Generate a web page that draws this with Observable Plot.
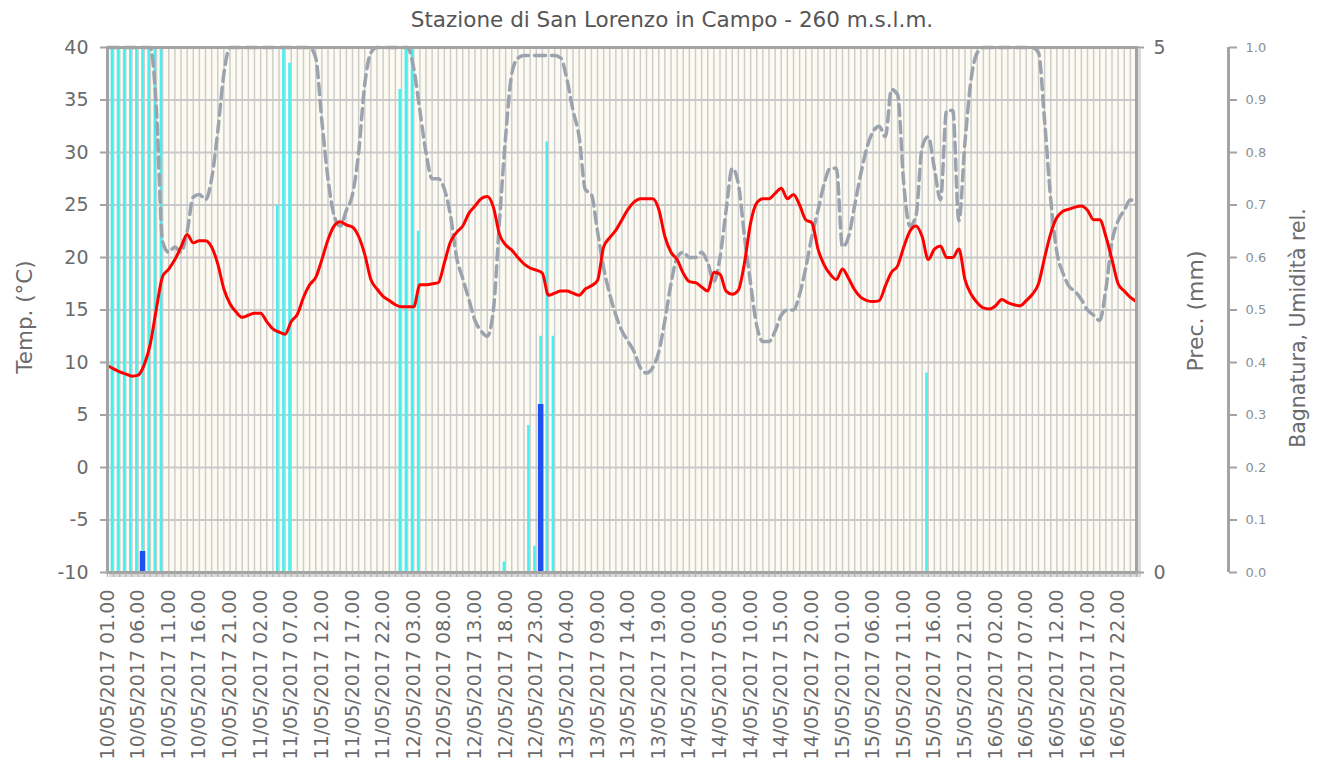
<!DOCTYPE html>
<html>
<head>
<meta charset="utf-8">
<script src="https://cdn.jsdelivr.net/npm/d3@7"></script>
<script src="https://cdn.jsdelivr.net/npm/@observablehq/plot@0.6"></script>
<style>
  html, body { margin: 0; padding: 0; background: #ffffff; }
  svg { display: block; }
</style>
</head>
<body>
<div id="chart"></div>
<script>
// hourly series, index 0 = 10/05/2017 01.00
const temperature = [
  9.7, 9.4, 9.1, 8.9, 8.7, 8.8, 9.8, 11.8, 15.2, 18.2,
  18.9, 19.8, 21.0, 22.2, 21.4, 21.6, 21.6, 21.0, 19.4, 17.0,
  15.6, 14.8, 14.3, 14.5, 14.7, 14.7, 13.9, 13.2, 12.9, 12.7,
  13.9, 14.6, 16.2, 17.4, 18.1, 19.8, 21.7, 23.0, 23.4, 23.1,
  22.9, 22.0, 20.3, 17.9, 17.0, 16.3, 15.9, 15.5, 15.3, 15.3,
  15.3, 17.4, 17.4, 17.5, 17.6, 19.5, 21.5, 22.4, 23.0, 24.2,
  24.9, 25.6, 25.8, 24.8, 22.2, 21.2, 20.7, 20.0, 19.4, 19.0,
  18.8, 18.5, 16.4, 16.6, 16.8, 16.8, 16.6, 16.4, 17.0, 17.3,
  17.8, 21.0, 21.9, 22.6, 23.6, 24.6, 25.3, 25.6, 25.6, 25.6,
  24.6, 22.0, 20.5, 19.8, 18.5, 17.7, 17.6, 17.2, 16.8, 18.6,
  18.4, 16.8, 16.5, 16.9, 19.5, 23.3, 25.2, 25.6, 25.6, 26.1,
  26.6, 25.6, 26.0, 25.0, 23.6, 23.3, 20.8, 19.3, 18.4, 17.9,
  18.9, 18.0, 16.9, 16.2, 15.9, 15.8, 15.9, 17.3, 18.6, 19.2,
  21.0, 22.5, 23.0, 22.0, 19.8, 20.8, 21.1, 20.0, 20.0, 20.8,
  17.9, 16.5, 15.7, 15.2, 15.1, 15.4, 16.0, 15.7, 15.5, 15.4,
  15.9, 16.5, 17.5, 20.0, 22.3, 23.8, 24.4, 24.6, 24.8, 24.9,
  24.5, 23.6, 23.6, 22.0, 19.8, 17.5, 16.8, 16.2, 15.8
];
const humidity = [
  1.0, 1.0, 1.0, 1.0, 1.0, 1.0, 1.0, 1.0, 0.88, 0.63,
  0.61, 0.62, 0.61, 0.65, 0.715, 0.72, 0.71, 0.75, 0.84, 0.95,
  1.0, 1.0, 1.0, 1.0, 1.0, 1.0, 1.0, 1.0, 1.0, 1.0,
  1.0, 1.0, 1.0, 1.0, 0.98, 0.86, 0.75, 0.68, 0.66, 0.69,
  0.72, 0.80, 0.93, 0.99, 1.0, 1.0, 1.0, 1.0, 1.0, 1.0,
  0.96, 0.88, 0.80, 0.75, 0.75, 0.73, 0.68, 0.60, 0.56, 0.52,
  0.48, 0.46, 0.45, 0.50, 0.67, 0.83, 0.95, 0.98, 0.985, 0.985,
  0.985, 0.985, 0.985, 0.985, 0.98, 0.94, 0.88, 0.83, 0.73, 0.72,
  0.65, 0.58, 0.53, 0.49, 0.46, 0.44, 0.42, 0.39, 0.38, 0.39,
  0.42, 0.48, 0.55, 0.60, 0.61, 0.60, 0.60, 0.61, 0.59, 0.555,
  0.60, 0.69, 0.77, 0.74, 0.64, 0.55, 0.47, 0.44, 0.44, 0.46,
  0.49, 0.50, 0.50, 0.53, 0.58, 0.64, 0.69, 0.74, 0.77, 0.77,
  0.62, 0.64, 0.70, 0.76, 0.81, 0.84, 0.85, 0.83, 0.92, 0.91,
  0.74, 0.66, 0.68, 0.81, 0.83, 0.77, 0.71, 0.88, 0.88, 0.67,
  0.82, 0.94, 0.99, 1.0, 1.0, 1.0, 1.0, 1.0, 1.0, 1.0,
  1.0, 1.0, 0.99, 0.86, 0.71, 0.61, 0.57, 0.545, 0.535, 0.52,
  0.50, 0.49, 0.48, 0.54, 0.63, 0.67, 0.69, 0.71, 0.70
];
// leaf wetness (0-1) by hour index
const wetHours  = [0, 1, 2, 3, 4, 5, 6, 7, 8, 27, 28, 29, 47, 48, 49, 50, 64, 68, 69, 70, 71, 72, 133];
const wetValues = [1, 1, 1, 1, 1, 1, 1, 1, 1, 0.70, 1, 0.97, 0.92, 1, 1, 0.65, 0.02, 0.28, 0.05, 0.45, 0.82, 0.45, 0.38];
// precipitation (mm) by hour index
const rainHours  = [5, 70];
const rainValues = [0.2, 1.6];
// x tick labels, every 5 hours
const tickLabels = [
  "10/05/2017 01.00", "10/05/2017 06.00", "10/05/2017 11.00", "10/05/2017 16.00", "10/05/2017 21.00",
  "11/05/2017 02.00", "11/05/2017 07.00", "11/05/2017 12.00", "11/05/2017 17.00", "11/05/2017 22.00",
  "12/05/2017 03.00", "12/05/2017 08.00", "12/05/2017 13.00", "12/05/2017 18.00", "12/05/2017 23.00",
  "13/05/2017 04.00", "13/05/2017 09.00", "13/05/2017 14.00", "13/05/2017 19.00",
  "14/05/2017 00.00", "14/05/2017 05.00", "14/05/2017 10.00", "14/05/2017 15.00", "14/05/2017 20.00",
  "15/05/2017 01.00", "15/05/2017 06.00", "15/05/2017 11.00", "15/05/2017 16.00", "15/05/2017 21.00",
  "16/05/2017 02.00", "16/05/2017 07.00", "16/05/2017 12.00", "16/05/2017 17.00", "16/05/2017 22.00"
];
const tempTicks = [-10, -5, 0, 5, 10, 15, 20, 25, 30, 35, 40];
const title = "Stazione di San Lorenzo in Campo - 260 m.s.l.m.";

// secondary scales mapped onto the temperature axis
const from01 = v => -10 + 50 * v;   // 0..1  -> -10..40
const fromMm = v => -10 + 10 * v;   // 0..5 mm -> -10..40

const hours = d3.range(temperature.length);
const series = hours.map(h => ({h, t: temperature[h], u: humidity[h]}));
const wet = wetHours.map((h, i) => ({h, v: wetValues[i]}));
const rain = rainHours.map((h, i) => ({h, v: rainValues[i]}));
const font = "'DejaVu Sans', Verdana, sans-serif";
const txt = "#6b6b6b";

const chart = Plot.plot({
  width: 1318,
  height: 769,
  marginLeft: 107,
  marginRight: 182,
  marginTop: 47,
  marginBottom: 197,
  style: {fontFamily: font, background: "#ffffff", overflow: "visible"},
  x: {domain: [0, 168], label: null},
  y: {domain: [-10, 40], label: null},
  marks: [
    Plot.frame({stroke: "#d9d9d9", strokeWidth: 3, dx: 3, dy: 3}),
    Plot.frame({fill: "#fdfbf1", stroke: "none"}),
    Plot.ruleX(hours, {x: d => d, stroke: "#cdcdcd", strokeWidth: 1.5}),
    Plot.ruleY(tempTicks, {y: d => d, stroke: "#c9c9c9", strokeWidth: 2}),
    Plot.ruleX(wet, {x: d => d.h + 0.72, y1: -10, y2: d => from01(d.v), stroke: "#47f0f0", strokeWidth: 2.6}),
    Plot.ruleX(rain, {x: d => d.h + 0.72, y1: -10, y2: d => fromMm(d.v), stroke: "#1f50f2", strokeWidth: 5.5}),
    Plot.line(series, {x: "h", y: d => from01(d.u), stroke: "#9ba3ae", strokeWidth: 3.5, strokeDasharray: "11,6", curve: "monotone-x"}),
    Plot.line(series, {x: "h", y: "t", stroke: "#ff0000", strokeWidth: 3, curve: "monotone-x"}),
    Plot.frame({stroke: "#a3a3a3", strokeWidth: 3}),
    // hourly ticks under the plot
    Plot.axisX(hours, {anchor: "bottom", label: null, tickSize: 5, tickFormat: () => "", stroke: "#b0b0b0", strokeWidth: 1.2}),
    // date labels
    Plot.axisX(d3.range(0, 166, 5), {anchor: "bottom", label: null, tickSize: 0, tickPadding: 17, tickRotate: -90,
      tickFormat: d => tickLabels[d / 5], fontSize: 19, fill: txt}),
    // left temperature axis
    Plot.axisY(tempTicks, {anchor: "left", label: null, tickSize: 7, tickPadding: 12, fontSize: 19, fill: txt, stroke: "#a3a3a3", strokeWidth: 2,
      tickFormat: d => String(d)}),
    // precipitation axis
    Plot.axisY([-10, 40], {anchor: "right", label: null, tickSize: 7, tickPadding: 10, fontSize: 19, fill: txt, stroke: "#a3a3a3", strokeWidth: 2,
      tickFormat: d => String((d + 10) / 10)}),
    // wetness / humidity axis
    Plot.ruleX([168], {x: d => d, y1: -10, y2: 40, dx: 92, stroke: "#a3a3a3", strokeWidth: 3}),
    Plot.axisY(tempTicks, {anchor: "right", label: null, dx: 92, tickSize: 8, tickPadding: 9, fontSize: 13, fill: "#8a8f98", stroke: "#a3a3a3", strokeWidth: 2,
      tickFormat: d => ((d + 10) / 50).toFixed(1)}),
    // axis titles
    Plot.text(["Temp. (°C)"], {text: d => d, frameAnchor: "left", dx: -82, dy: 7, rotate: -90, textAnchor: "middle", lineAnchor: "middle", fontSize: 21.5, fill: txt}),
    Plot.text(["Prec. (mm)"], {text: d => d, frameAnchor: "right", dx: 59, dy: 1, rotate: -90, textAnchor: "middle", lineAnchor: "middle", fontSize: 22, fill: txt}),
    Plot.text(["Bagnatura, Umidità rel."], {text: d => d, frameAnchor: "right", dx: 162, dy: 18, rotate: -90, textAnchor: "middle", lineAnchor: "middle", fontSize: 20.5, fill: txt}),
    // title
    Plot.text([title], {text: d => d, frameAnchor: "top", dx: 50, dy: -27, textAnchor: "middle", lineAnchor: "middle", fontSize: 21.5, fill: "#555555"})
  ]
});
document.getElementById("chart").appendChild(chart);
</script>
</body>
</html>
